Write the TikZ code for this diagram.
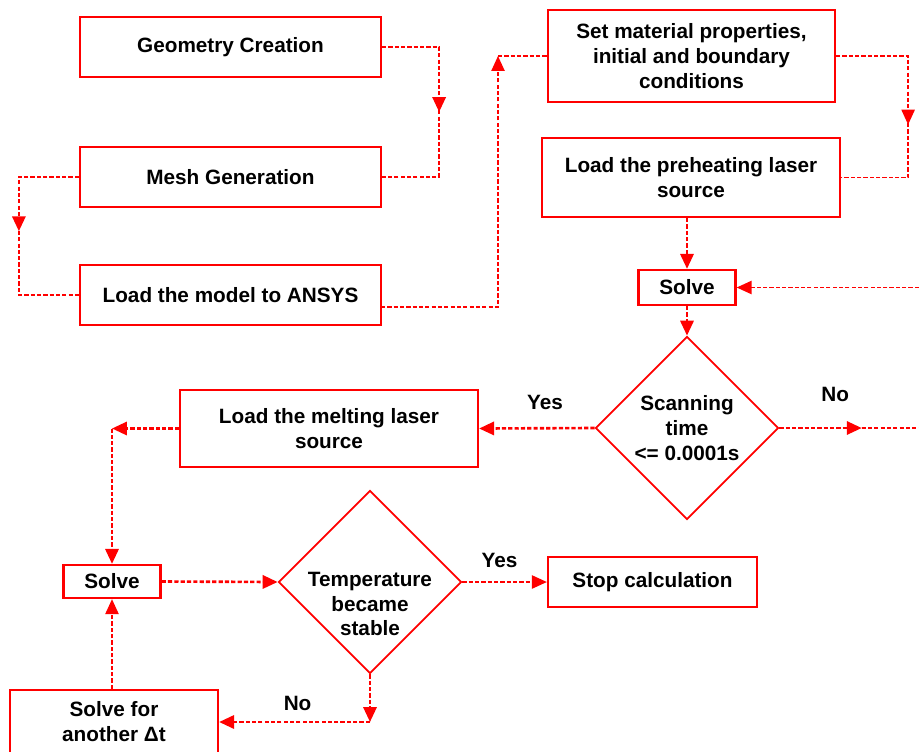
\documentclass[tikz,border=0pt]{standalone}
\usepackage{fontspec}
\setmainfont{Liberation Sans}
\usetikzlibrary{arrows.meta,shapes.geometric,decorations.markings}

\begin{document}
\begin{tikzpicture}[x=0.02cm, y=-0.02cm, >={Triangle[length=8.5pt,width=7.5pt]},
  font=\fontsize{11.8}{14.2}\selectfont\bfseries,
  box/.style={draw=red, line width=1.3pt, align=center, inner sep=0pt},
  decision/.style={diamond, draw=red, line width=1pt, align=center, inner sep=-2pt,
    minimum width=3.66cm, minimum height=3.66cm},
  dline/.style={red, line width=1.5pt, dash pattern=on 2.4pt off 1.2pt},
  thinline/.style={red, line width=1pt, dash pattern=on 2.4pt off 1.2pt},
  midarrow/.style={postaction={decorate}, decoration={markings,
    mark=at position #1 with {\arrow{Triangle[length=8.5pt,width=7.5pt]}}}},
  lbl/.style={inner sep=0pt, text=black}]
\useasboundingbox (0,0) rectangle (919,751);
\clip (0,0) rectangle (919,751);

% boxes
\node[box, minimum width=6.02cm, minimum height=1.2cm] (geo) at (230.5,47) {Geometry Creation};
\node[box, minimum width=6.02cm, minimum height=1.2cm] (mesh) at (230.5,177) {Mesh Generation};
\node[box, minimum width=6.02cm, minimum height=1.2cm] (load) at (230.5,295) {Load the model to ANSYS};
\node[box, minimum width=5.74cm, minimum height=1.84cm] (mat) at (691.5,56) {Set material properties,\\initial and boundary\\conditions};
\node[box, minimum width=5.96cm, minimum height=1.58cm] (pre) at (691,177.5) {Load the preheating laser\\source};
\node[box, minimum width=1.94cm, minimum height=0.7cm] (solveA) at (687,287.5) {Solve};
\node[decision] (scan) at (687,428) {Scanning\\time\\<= 0.0001s};
\node[box, minimum width=5.96cm, minimum height=1.54cm] (melt) at (329,428.5) {Load the melting laser\\source};
\node[box, minimum width=1.94cm, minimum height=0.66cm] (solveB) at (112,581.5) {Solve};
\node[decision, label={[lbl, align=center, yshift=-12.5pt]center:Temperature\\became\\stable}] (temp) at (370,582) {};
\node[box, minimum width=4.18cm, minimum height=1cm] (stop) at (652.5,582) {Stop calculation};
\node[box, minimum width=4.16cm, minimum height=1.28cm] (again) at (114,722) {Solve for\\another Δt};

\coordinate (lout) at (381,307);
\coordinate (up) at (498,56);
\coordinate (rin) at (919,287.5);
\coordinate (rout) at (919,428);
\coordinate (cm) at (solveB.north |- melt.west);
\coordinate (ct) at (temp.south |- again.east);

% connectors
\draw[dline, midarrow=0.5] (geo.east) -- ++(57,0) |- (mesh.east);
\draw[dline, midarrow=0.48] (mesh.west) -- ++(-60,0) |- (load.west);
\draw[thinline, ->] (lout) -| (up);
\draw[thinline] (up) -- (mat.west);
\draw[thinline, midarrow=0.54] (mat.east) -- ++(72,0) |- (pre.east);
\draw[dline, ->] (solveA.north |- pre.south) -- (solveA.north);
\draw[thinline, ->] (rin) -- (solveA.east);
\draw[dline, ->] (solveA.south) -- (scan.north);
\draw[dline, ->] (scan.west) -- (melt.east) node[lbl, pos=0.43, above=10pt] {Yes};
\draw[dline, midarrow=0.59] (scan.east) -- (rout) node[lbl, pos=0.4, above=14.5pt] {No};
\draw[dline, ->] (melt.west) -- (cm);
\draw[dline, ->] (cm) -- (solveB.north);
\draw[dline, ->] (solveB.east) -- (temp.west);
\draw[thinline, ->] (temp.east) -- (stop.west) node[lbl, pos=0.44, above=7.5pt] {Yes};
\draw[dline, ->] (temp.south) -- (ct);
\draw[dline, ->] (ct) -- (again.east) node[lbl, pos=0.48, above=5.5pt] {No};
\draw[thinline, ->] (solveB.south |- again.north) -- (solveB.south);

\end{tikzpicture}
\end{document}
